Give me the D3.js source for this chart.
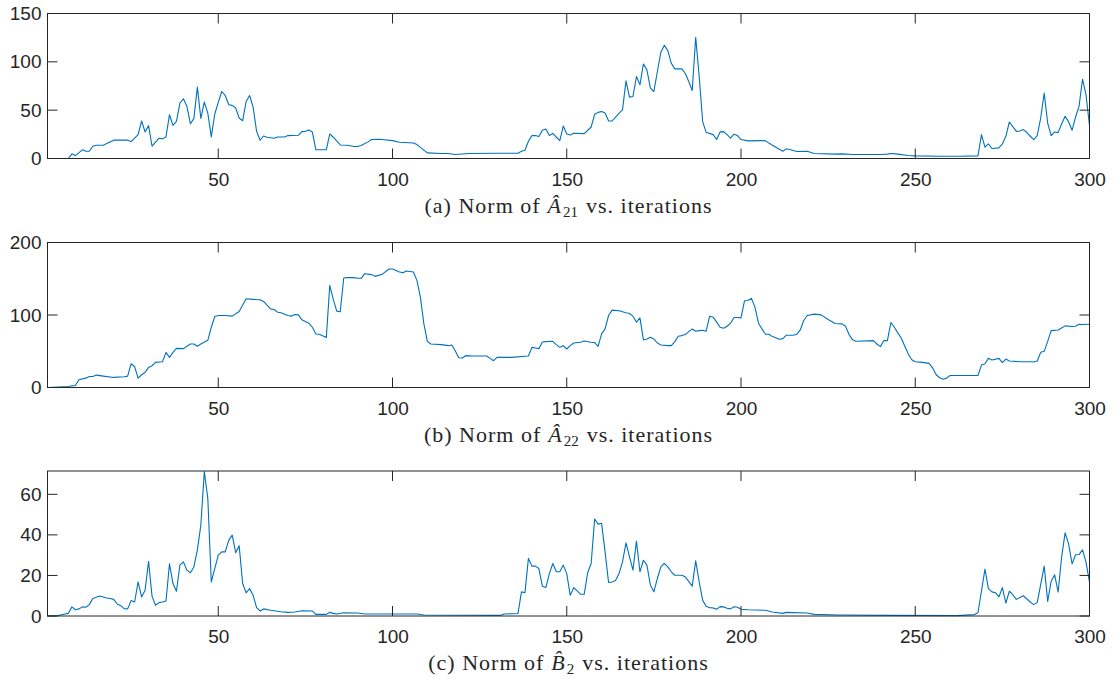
<!DOCTYPE html>
<html>
<head>
<title>Norms vs. iterations</title>
<style>
  body { margin: 0; background: #fff; overflow: hidden; }
  svg { display: block; }
  .tick text { font-family: "Liberation Sans", Arial, sans-serif; font-size: 19px; fill: #262626; }
  .caption text { font-family: "Liberation Serif", "Times New Roman", serif; font-size: 22px; letter-spacing: 1px; fill: #262626; }
</style>
</head>
<body>
<svg id="chart" width="1115" height="679"></svg>

<script src="https://cdnjs.cloudflare.com/ajax/libs/d3/7.8.5/d3.min.js"></script>
<script>
// (a) norm of A21 - iteration index and value at each vertex of the trace
const iterA21 = [1,7,8,9,11,12,13,14,15,17,18,20,24,25,27,28,29,30,31,33,34,35,36,37,38,39,40,41,42,43,44,45,46,47,48,49,50,51,52,53,54,55,56,57,58,59,60,61,62,63,64,66,67,69,70,73,74,75,76,77,78,81,82,83,85,87,89,90,91,93,94,96,97,100,102,106,107,110,114,116,118,122,130,136,137,138,139,140,141,142,143,144,145,146,147,148,149,150,151,152,155,157,158,159,160,161,162,163,164,165,166,167,168,169,170,171,172,173,174,175,176,177,178,179,180,181,182,183,184,185,186,187,188,189,190,192,193,194,195,196,197,198,199,200,202,206,207,209,210,212,213,214,216,219,221,227,229,232,240,242,243,245,248,250,257,263,268,269,270,271,272,274,275,276,277,278,279,280,281,282,283,284,285,286,287,288,289,290,291,292,293,294,295,296,297,298,299,300];
const normA21 = [0,0,4.8,3,9,7.5,7.5,12.7,13.7,13.7,15.5,19,19,17.5,24.7,38.8,27.5,34,12.7,21,20.3,22.3,45.3,34.3,38.5,57.3,61.8,54,36,41.2,73.8,41.5,58.4,47,22.3,46,58,69.3,65.2,55.6,55,52.2,41.9,39.1,59,65.2,53.2,28.1,18.9,23.3,22,21,22.3,22.3,23.7,24,27.8,28.1,29.5,27.5,9,9,25.4,22,14,13.7,12.4,12.4,13.4,17.2,19.6,19.9,19.6,18.5,16.8,16.1,14.4,5.8,5.1,5.1,4.1,5.1,5.5,5.5,7.5,8.6,17.9,23.7,23.7,22.7,29.2,30.6,23.7,26.1,22,18.5,33.6,25.4,24.4,26.1,25.7,32.6,45.7,47.7,48.7,47,38.8,38.8,42.9,46.7,50.5,80.3,63.5,64.2,84.8,76.2,97.8,91.7,72.8,69.3,90,109.9,117.1,111.6,98.5,92.7,92.7,92.7,88.2,79.6,70.4,125.3,84.8,38.1,27.1,24.7,19.6,27.5,27.8,24.7,21,25.1,23.7,19.6,18.2,18.5,18.2,13.7,11.7,7.5,10,9.3,7.2,7.5,5.1,4.5,4.8,4.1,4.1,4.5,5.1,4.5,3.1,2.7,2.4,2.4,2.7,24.7,11.7,15.1,10.3,11,15.1,23,37.8,33,28.1,28.5,29.9,27.1,23,19.6,23.7,41.9,67.6,36.7,23.7,27.5,26.8,35.7,43.6,38.1,29.2,42.9,53.9,82,65.9,34];

// (b) norm of A22
const iterA22 = [1,7,8,9,10,12,13,14,15,17,20,23,24,25,26,27,28,29,30,31,32,34,35,36,37,38,40,42,43,44,45,47,48,49,50,52,54,56,58,60,62,63,65,66,67,68,70,71,72,73,74,75,76,77,78,79,81,82,83,84,85,86,87,89,90,91,92,94,95,97,99,100,102,103,104,106,107,108,109,110,111,114,116,117,118,119,120,121,123,127,128,129,130,134,139,140,141,142,143,144,146,147,148,149,150,151,152,154,155,157,158,159,160,161,162,163,165,167,168,169,170,171,172,173,174,175,176,177,179,180,181,182,183,184,185,186,187,188,189,190,191,192,193,194,195,196,197,198,199,200,201,202,203,204,205,206,207,208,209,211,212,213,215,216,217,218,219,221,223,225,227,229,230,231,232,233,238,239,240,241,242,243,244,245,246,247,248,249,250,252,254,255,256,257,258,259,260,268,269,270,271,272,274,275,276,277,280,283,284,285,286,287,288,289,291,292,293,295,296,297,298,300];
const normA22 = [0,1.4,2.3,2.8,10.6,12.9,15.2,15.2,17.1,15.7,13.9,14.8,15.7,32.8,28.6,12.9,17.6,20.8,27.7,30,34.6,35.6,48.5,41.6,48.5,54,53.6,60,60,56.8,60,65.1,83.1,97.9,99.3,99.3,98.4,104.8,122.4,121.5,121,118.7,108.5,107.6,103.9,103,99.3,98.4,100.7,100.2,93.3,91,88.7,83.1,73.9,73.4,68.8,140.9,121.5,105.3,104.4,151,151.5,151.5,150.6,150.6,157,155.7,153.3,156.1,163.5,163.5,159.4,158.4,160.7,159.4,147.8,124.7,87.8,63.7,60,59.1,57.7,58.7,50.8,41.1,40.6,43.9,43.4,43.4,40.2,37,41.6,41.6,43.4,55.4,54.5,53.6,62.8,63.3,63.7,59.1,55.4,57.7,53.1,57.7,61.4,62.4,64.2,62.4,61.9,56.8,73.9,80.8,99.3,106.7,105.8,103,102.1,98.4,90.1,96.1,65.6,67,69.3,67,61.4,58.7,57.7,57.7,63.3,70.7,71.6,73,77.1,80.8,77.6,78.5,79,77.6,98.4,97,90.1,83.1,81.8,84.5,88.7,96.5,96.5,96.1,119.6,120.1,122.9,110.9,89.1,80.8,73.4,73.4,70.2,66.5,67.4,72.1,72.1,73.4,79.4,92.4,99.3,101.2,100.2,93.8,88.2,87.8,84.5,73,66,63.7,64.7,60,56.4,64.7,64.7,89.6,83.1,75.3,67.9,56.8,46.2,38.3,35.6,34.6,33.3,26.8,17.6,13.4,11.5,12.9,16.6,16.6,30.9,32.8,40.2,37.9,40.2,34.2,39.3,36.5,35.6,35.6,35.1,36.5,48.5,49.9,63.7,78.5,79.4,82.2,85,84.1,84.5,87.3,86.8,87.3];

// (c) norm of B2
const iterB2 = [1,4,6,7,8,9,10,11,12,13,14,15,16,17,18,19,20,21,22,23,24,25,26,27,28,29,30,31,32,33,34,35,36,37,38,39,40,41,42,43,44,45,46,47,48,49,50,51,52,53,54,55,56,57,58,59,60,61,62,63,65,68,70,72,74,77,78,81,82,83,84,86,90,92,107,109,131,132,136,137,138,139,140,141,142,143,144,145,146,147,148,149,150,151,152,153,154,155,156,157,158,159,160,161,162,163,164,165,166,167,168,169,170,171,172,173,174,175,176,177,178,179,180,181,183,184,185,186,187,188,189,190,191,192,193,194,195,196,197,198,199,200,202,207,209,212,213,219,221,228,243,262,267,268,270,271,272,273,274,275,276,277,278,279,281,283,284,285,287,288,289,290,291,292,293,294,295,296,297,298,299,300];
const normB2 = [0,0.2,1,1.3,4.5,3.1,3.5,4.5,4.3,5.6,8.6,9.2,9.9,9.4,8.9,8.6,8.2,5.9,5.1,3.6,3.5,7.6,6.9,16.8,9.4,12.7,27,9.7,5.3,6.6,6.9,7.4,25.7,16,12.2,25.1,26.7,22.6,21.3,24.2,32.5,44.8,71.2,58,16.8,23.4,30,31.6,31.6,37.3,39.9,31.2,34.6,16,11.4,13.5,10.2,4.1,2.5,3.5,2.8,2.1,1.8,2,2.6,2.5,0.8,0.8,1.8,1.3,1,1.6,1.5,1,1,0.5,0.3,1,1.2,11.9,11.5,28.4,24.6,24.6,23.4,14.7,14,20.9,25.9,21.8,21.8,25.1,20.9,10.2,14,12.4,10.7,10.7,21.3,25.9,47.8,45.3,45.7,31.6,16.5,16.8,17.5,20.9,26.7,36.1,29.2,22.6,36.9,21.8,27.5,25.1,15.2,11.9,18.5,24.2,25.9,24.2,21.8,20.1,20.1,19.3,17.1,14.7,27.2,16.8,7.7,4.8,4.1,4,3.3,4.6,4.5,3.8,3.5,4.6,4.3,3.3,3.1,2.8,2,1.3,1.8,1.5,0.8,0.5,0.3,0.2,0.7,1.6,23.1,13.5,11.9,11.5,9.4,14,6.4,12.2,10.5,8.2,10,6.9,5.6,6.6,24.6,7.2,17.1,20.3,11.8,29,41,35.6,25.7,30.2,30.3,32.6,26.6,16.7];

const xTicks = [50, 100, 150, 200, 250, 300];
const yTicksA21 = [0, 50, 100, 150];
const yTicksA22 = [0, 100, 200];
const yTicksB2 = [0, 20, 40, 60];
const yMaxes = [150, 200, 71.5];
const captionLetters = ["a", "b", "c"];
const captionSubs = ["21", "22", "2"];
const captionSymbols = ["A\u0302", "A\u0302", "B\u0302"];

const svg = d3.select("#chart");
const left = 47.5, right = 1089.5;
const panelTops = [13.5, 242.5, 471];
const panelHeight = 145;
const lineColor = "#0072bd";
const axisColor = "#262626";
const tickLen = 10;

const x = d3.scaleLinear().domain([1, 300]).range([left, right]);

const panels = [
  { iters: iterA21, vals: normA21, yTicks: yTicksA21 },
  { iters: iterA22, vals: normA22, yTicks: yTicksA22 },
  { iters: iterB2, vals: normB2, yTicks: yTicksB2 }
];

panels.forEach(function(p, i) {
  const top = panelTops[i], bottom = top + panelHeight;
  const y = d3.scaleLinear().domain([0, yMaxes[i]]).range([bottom, top]);
  const g = svg.append("g");

  const pts = p.iters.map(function(it, k) { return [it, p.vals[k]]; });

  g.append("path")
    .datum(pts)
    .attr("fill", "none")
    .attr("stroke", lineColor)
    .attr("stroke-width", 1.1)
    .attr("stroke-linejoin", "round")
    .attr("d", d3.line().x(function(d) { return x(d[0]); }).y(function(d) { return y(d[1]); }));

  // tick labels only, from the d3 axes
  g.append("g")
    .attr("transform", "translate(0," + bottom + ")")
    .call(d3.axisBottom(x).tickValues(xTicks).tickSize(0).tickPadding(14))
    .call(function(a) { a.select(".domain").remove(); });
  g.append("g")
    .attr("transform", "translate(" + left + ",0)")
    .call(d3.axisLeft(y).tickValues(p.yTicks).tickSize(0).tickPadding(6))
    .call(function(a) { a.select(".domain").remove(); });

  // inward tick marks on all four sides
  const marks = g.append("g").attr("stroke", axisColor).attr("stroke-width", 1);
  marks.selectAll(".xb").data(xTicks).join("line")
    .attr("x1", function(d) { return x(d); }).attr("x2", function(d) { return x(d); })
    .attr("y1", bottom).attr("y2", bottom - tickLen);
  marks.selectAll(".xt").data(xTicks).join("line")
    .attr("x1", function(d) { return x(d); }).attr("x2", function(d) { return x(d); })
    .attr("y1", top).attr("y2", top + tickLen);
  marks.selectAll(".yl").data(p.yTicks).join("line")
    .attr("x1", left).attr("x2", left + tickLen)
    .attr("y1", function(d) { return y(d); }).attr("y2", function(d) { return y(d); });
  marks.selectAll(".yr").data(p.yTicks).join("line")
    .attr("x1", right).attr("x2", right - tickLen)
    .attr("y1", function(d) { return y(d); }).attr("y2", function(d) { return y(d); });

  // box
  g.append("rect")
    .attr("x", left).attr("y", top)
    .attr("width", right - left).attr("height", panelHeight)
    .attr("fill", "none")
    .attr("stroke", axisColor)
    .attr("stroke-width", 1);

  // caption: pieces laid side by side, then centred under the axes
  const cap = g.append("g").attr("class", "caption");
  const pieces = [
    { t: "(" + captionLetters[i] + ") Norm of", dy: 0 },
    { t: captionSymbols[i], dy: 0, italic: true, gap: 7 },
    { t: captionSubs[i], dy: 4, size: 15, gap: 1 },
    { t: "vs. iterations", dy: 0, gap: 8 }
  ];
  let cx = 0;
  pieces.forEach(function(pc) {
    cx += pc.gap || 0;
    const t = cap.append("text").attr("x", cx).attr("y", pc.dy).text(pc.t);
    if (pc.italic) t.attr("font-style", "italic");
    if (pc.size) t.style("font-size", pc.size + "px").style("letter-spacing", "0px");
    cx += t.node().getComputedTextLength();
  });
  cap.attr("transform", "translate(" + ((left + right) / 2 - cx / 2) + "," + (bottom + 54) + ")");
});
</script>
</body>
</html>
